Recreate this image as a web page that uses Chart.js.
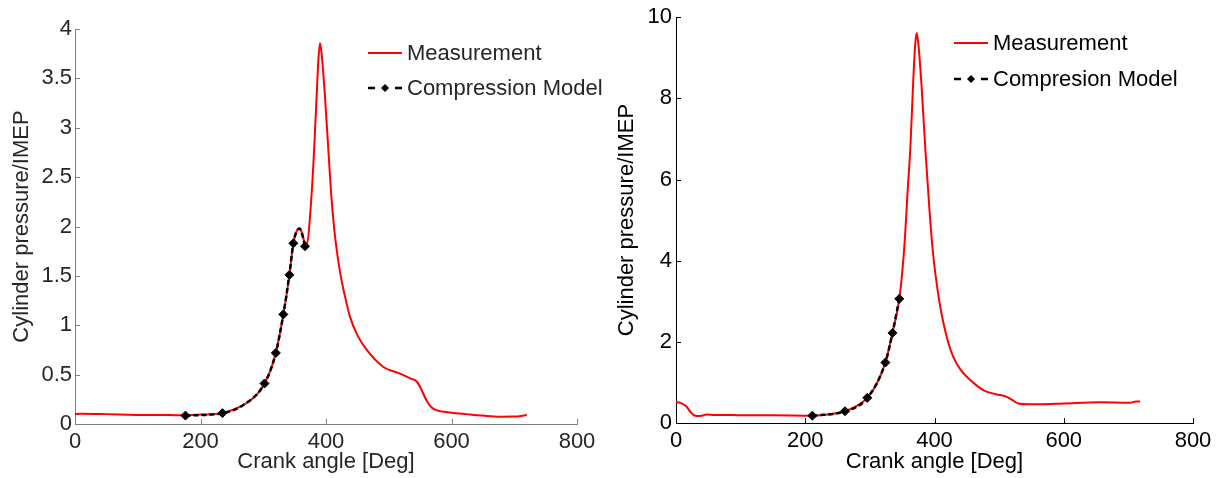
<!DOCTYPE html>
<html>
<head>
<meta charset="utf-8">
<script src="https://cdn.jsdelivr.net/npm/chart.js@4/dist/chart.umd.min.js"></script>
<style>
  html, body { margin: 0; padding: 0; background: #fff; }
  #wrap { position: relative; width: 1226px; height: 478px; }
  canvas { position: absolute; top: 0; }
  #chartL { left: 0; }
  #chartR { left: 613px; }
</style>
</head>
<body>
<div id="wrap">
  <canvas id="chartL" width="613" height="478"></canvas>
  <canvas id="chartR" width="613" height="478"></canvas>
</div>
<script>
// ---- left panel data ----
const angleL = [0, 10, 50, 100, 150, 176, 200, 235, 250, 273, 290, 302, 312, 320, 326, 332, 337, 341.6, 348, 353, 358, 362, 366, 370, 374.5, 380, 385, 388, 390.5, 393, 398, 403, 408, 413, 418, 424, 430, 438, 450, 465, 491, 518, 535, 544.5, 552, 560, 568, 576, 600, 624, 650, 677, 700, 720];
const measL  = [0.10, 0.105, 0.10, 0.092, 0.09, 0.088, 0.095, 0.11, 0.14, 0.21, 0.30, 0.41, 0.55, 0.72, 0.90, 1.11, 1.30, 1.51, 1.83, 1.95, 1.98, 1.93, 1.84, 1.83, 2.10, 2.64, 3.31, 3.70, 3.855, 3.75, 3.35, 2.85, 2.35, 1.98, 1.72, 1.48, 1.30, 1.09, 0.90, 0.75, 0.58, 0.51, 0.46, 0.43, 0.35, 0.24, 0.17, 0.14, 0.115, 0.10, 0.085, 0.074, 0.075, 0.09];
const modelAngleL = [176, 235, 270, 302, 320, 332, 341.6, 348, 353, 358, 362, 366.5];
const modelL      = [0.085, 0.11, 0.20, 0.41, 0.72, 1.11, 1.51, 1.83, 1.95, 1.98, 1.92, 1.80];
const markerL     = [1, 1, 0, 1, 1, 1, 1, 1, 0, 0, 0, 1];

// ---- right panel data ----
const angleR = [0, 8, 16.5, 22, 27, 32, 40, 47.5, 60, 78, 100, 150, 211, 240, 261.5, 280, 296, 310, 324, 335, 345.5, 350, 354, 358, 363, 367, 370, 372.4, 375, 380, 386, 392, 397, 402, 408, 414, 421, 429, 440, 450, 475.5, 495, 511, 520, 529.6, 545, 563, 600, 656, 702, 712, 718];
const measR  = [0.52, 0.49, 0.40, 0.28, 0.20, 0.17, 0.18, 0.21, 0.20, 0.20, 0.19, 0.19, 0.18, 0.22, 0.29, 0.42, 0.62, 0.95, 1.49, 2.22, 3.06, 3.70, 4.50, 5.60, 6.90, 8.40, 9.30, 9.61, 9.35, 8.30, 6.70, 5.30, 4.30, 3.60, 2.95, 2.45, 2.00, 1.63, 1.32, 1.14, 0.81, 0.71, 0.65, 0.57, 0.48, 0.46, 0.46, 0.48, 0.51, 0.50, 0.53, 0.53];
const modelAngleR = [211, 261.5, 296, 324, 335, 345.5];
const modelR      = [0.18, 0.29, 0.62, 1.49, 2.22, 3.06];
const markerR     = [1, 1, 1, 1, 1, 1];

const xTicks = [0, 200, 400, 600, 800];
const yTicksL = [0, 0.5, 1, 1.5, 2, 2.5, 3, 3.5, 4];
const yTicksR = [0, 2, 4, 6, 8, 10];

const labelsL = ['Measurement', 'Compression Model'];
const labelsR = ['Measurement', 'Compresion Model'];

const FONT = "'Liberation Sans', Arial, Helvetica, sans-serif";

function pts(xs, ys) {
    return xs.map((x, i) => ({ x: x, y: ys[i] }));
}

// small legend: line sample (+ marker) followed by the text
const sampleLegend = {
    id: 'sampleLegend',
    afterDraw(chart, args, opts) {
        const ctx = chart.ctx;
        ctx.save();
        chart.data.datasets.forEach((ds, i) => {
            const y = opts.y + i * opts.gap;
            const x0 = opts.x, x1 = opts.x + 34;
            ctx.strokeStyle = ds.borderColor;
            ctx.lineWidth = ds.borderWidth;
            if (ds.borderDash && ds.borderDash.length) {
                ctx.beginPath();
                ctx.moveTo(x0, y); ctx.lineTo(x0 + 7, y);
                ctx.moveTo(x1 - 7, y); ctx.lineTo(x1, y);
                ctx.stroke();
                const cx = (x0 + x1) / 2;
                ctx.fillStyle = ds.borderColor;
                ctx.beginPath();
                ctx.moveTo(cx, y - 4); ctx.lineTo(cx + 4, y);
                ctx.lineTo(cx, y + 4); ctx.lineTo(cx - 4, y);
                ctx.closePath();
                ctx.fill();
            } else {
                ctx.beginPath();
                ctx.moveTo(x0, y); ctx.lineTo(x1, y);
                ctx.stroke();
            }
            ctx.fillStyle = opts.color;
            ctx.font = '22px ' + FONT;
            ctx.textAlign = 'left';
            ctx.textBaseline = 'middle';
            ctx.fillText(ds.label, x1 + 5, y + 1);
        });
        ctx.restore();
    }
};

// inward tick marks, matlab style
const innerTicks = {
    id: 'innerTicks',
    afterDraw(chart, args, opts) {
        const ctx = chart.ctx;
        const xs = chart.scales.x, ys = chart.scales.y;
        const a = chart.chartArea;
        ctx.save();
        ctx.strokeStyle = opts.color;
        ctx.lineWidth = 1;
        ctx.beginPath();
        xs.ticks.forEach(t => {
            const px = Math.round(xs.getPixelForValue(t.value)) + 0.5;
            ctx.moveTo(px, a.bottom);
            ctx.lineTo(px, a.bottom - 5);
        });
        ys.ticks.forEach(t => {
            const py = Math.round(ys.getPixelForValue(t.value)) + 0.5;
            ctx.moveTo(a.left, py);
            ctx.lineTo(a.left + 5, py);
        });
        ctx.stroke();
        ctx.restore();
    }
};

function makeChart(id, cfg) {
    const ctx = document.getElementById(id);
    return new Chart(ctx, {
        type: 'line',
        data: {
            datasets: [
                {
                    label: cfg.labels[0],
                    data: pts(cfg.angle, cfg.meas),
                    borderColor: '#ff0000',
                    borderWidth: 2,
                    pointRadius: 0,
                    cubicInterpolationMode: 'monotone',
                    order: 2
                },
                {
                    label: cfg.labels[1],
                    data: pts(cfg.modelAngle, cfg.model),
                    borderColor: '#000000',
                    backgroundColor: '#000000',
                    borderWidth: 2.5,
                    borderDash: [5, 3],
                    pointStyle: 'rectRot',
                    pointRadius: cfg.marker.map(m => m ? 4.5 : 0),
                    pointBorderWidth: 1,
                    cubicInterpolationMode: 'monotone',
                    order: 1
                }
            ]
        },
        options: {
            responsive: false,
            animation: false,
            layout: { padding: cfg.padding },
            plugins: {
                legend: { display: false },
                tooltip: { enabled: false },
                sampleLegend: cfg.legend,
                innerTicks: { color: cfg.axisColor }
            },
            scales: {
                x: {
                    type: 'linear',
                    min: 0,
                    max: 800,
                    afterBuildTicks: s => { s.ticks = xTicks.map(v => ({ value: v })); },
                    afterFit: s => { s.height = cfg.xAxisH; },
                    grid: { display: false, drawTicks: false },
                    border: { display: true, color: cfg.axisColor, width: 1 },
                    ticks: { color: cfg.textColor, font: { family: FONT, size: 22 }, padding: cfg.xTickPad, maxRotation: 0, callback: v => String(v) },
                    title: { display: true, text: 'Crank angle [Deg]', color: cfg.textColor, font: { family: FONT, size: 22 }, padding: { top: 0, bottom: 3 } }
                },
                y: {
                    min: 0,
                    max: cfg.yTicks[cfg.yTicks.length - 1],
                    afterBuildTicks: s => { s.ticks = cfg.yTicks.map(v => ({ value: v })); },
                    afterFit: s => { s.width = cfg.yAxisW; },
                    grid: { display: false, drawTicks: false },
                    border: { display: true, color: cfg.axisColor, width: 1 },
                    ticks: { color: cfg.textColor, font: { family: FONT, size: 22 }, padding: cfg.yTickPad, callback: v => String(v) },
                    title: { display: true, text: 'Cylinder pressure/IMEP', color: cfg.textColor, font: { family: FONT, size: 22 }, padding: { top: cfg.yTitlePad, bottom: 0 } }
                }
            }
        },
        plugins: [innerTicks, sampleLegend]
    });
}

makeChart('chartL', {
    angle: angleL, meas: measL, modelAngle: modelAngleL, model: modelL, marker: markerL,
    labels: labelsL, yTicks: yTicksL,
    padding: { left: 0, top: 29, right: 36, bottom: 0 },
    yAxisW: 75, xAxisH: 54, xTickPad: 5, yTickPad: 3, yTitlePad: 9,
    axisColor: '#7f7f7f', textColor: '#262626',
    legend: { x: 368, y: 53, gap: 35, color: '#262626' }
});

makeChart('chartR', {
    angle: angleR, meas: measR, modelAngle: modelAngleR, model: modelR, marker: markerR,
    labels: labelsR, yTicks: yTicksR,
    padding: { left: 0, top: 16, right: 33, bottom: 0 },
    yAxisW: 63, xAxisH: 55, xTickPad: 5, yTickPad: 4, yTitlePad: 1,
    axisColor: '#000000', textColor: '#000000',
    legend: { x: 341, y: 43, gap: 36, color: '#000000' }
});
</script>
</body>
</html>
